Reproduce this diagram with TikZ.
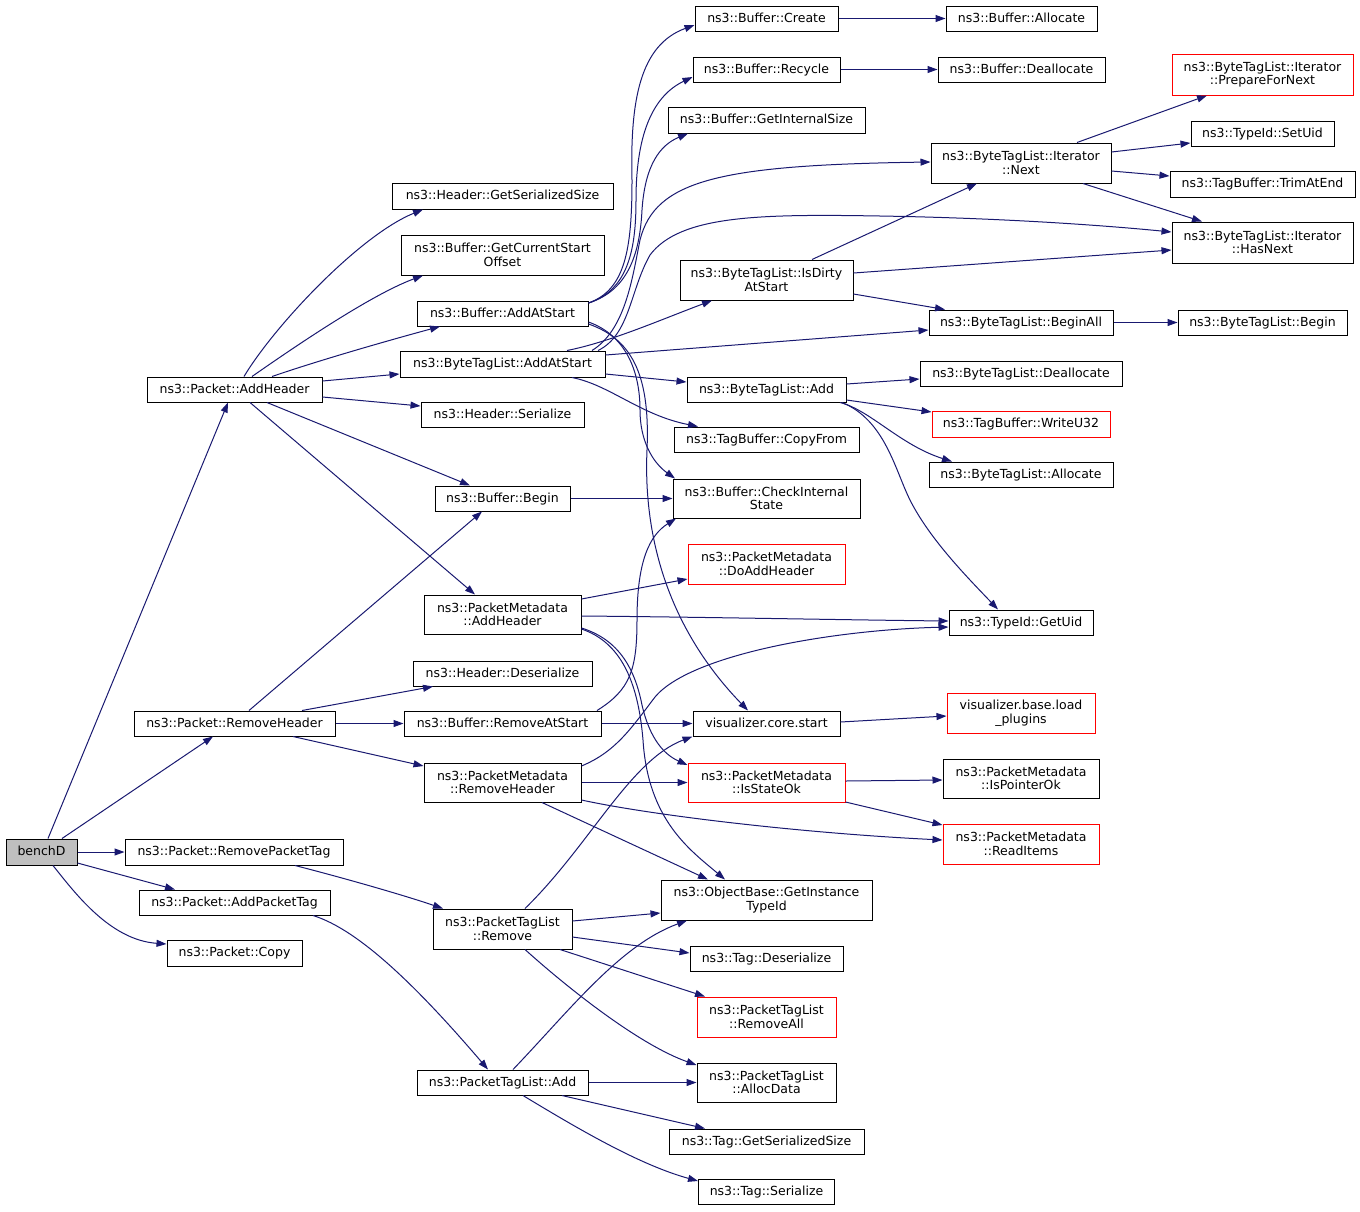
\documentclass[tikz,border=0pt]{standalone}
\usepackage{fontspec}
\setmainfont{DejaVu Sans}
\usetikzlibrary{arrows.meta}
\definecolor{edgec}{HTML}{191970}
\definecolor{nodegray}{HTML}{BFBFBF}
\newcommand{\fsz}{\fontsize{12.5}{13.5}\selectfont}
\begin{document}
\begin{tikzpicture}[x=1pt,y=-1pt,
  boxbase/.style={draw=black, line width=1pt, fill=white, inner sep=0pt, font=\fsz},
  bone/.style={boxbase, text height=9.5pt, text depth=2.5pt},
  btwo/.style={boxbase, align=center},
  rone/.style={bone, draw=red},
  rtwo/.style={btwo, draw=red},
  edge/.style={draw=edgec, line width=1pt, -{Triangle[length=10pt,width=7pt]}}]
\useasboundingbox (0,0) rectangle (1360,1211);

% ---------- nodes ----------
\node[bone, fill=nodegray, minimum width=71pt, minimum height=26pt] (benchD) at (41.5,852) {benchD};
\node[bone, minimum width=175pt, minimum height=25pt] (pAddHeader) at (234.5,389.5) {ns3::Packet::AddHeader};
\node[bone, minimum width=221pt, minimum height=26pt] (hGetSerSize) at (502.5,196) {ns3::Header::GetSerializedSize};
\node[btwo, minimum width=203pt, minimum height=40pt] (bGetCurStart) at (502.5,255) {ns3::Buffer::GetCurrentStart\\Offset};
\node[bone, minimum width=171pt, minimum height=25pt] (bAddAtStart) at (502.5,313.5) {ns3::Buffer::AddAtStart};
\node[bone, minimum width=205pt, minimum height=26pt] (btlAddAtStart) at (502.5,364) {ns3::ByteTagList::AddAtStart};
\node[bone, minimum width=163pt, minimum height=25pt] (hSerialize) at (502.5,414.5) {ns3::Header::Serialize};
\node[bone, minimum width=143pt, minimum height=25pt] (bCreate) at (766.5,18.5) {ns3::Buffer::Create};
\node[bone, minimum width=147pt, minimum height=25pt] (bRecycle) at (766.5,69.5) {ns3::Buffer::Recycle};
\node[bone, minimum width=197pt, minimum height=26pt] (bGetIntSize) at (766.5,120) {ns3::Buffer::GetInternalSize};
\node[btwo, minimum width=173pt, minimum height=40pt] (btlIsDirty) at (766.5,280) {ns3::ByteTagList::IsDirty\\AtStart};
\node[bone, minimum width=159pt, minimum height=25pt] (btlAdd) at (766.5,389.5) {ns3::ByteTagList::Add};
\node[bone, minimum width=151pt, minimum height=25pt] (bAllocate) at (1021.5,18.5) {ns3::Buffer::Allocate};
\node[bone, minimum width=167pt, minimum height=25pt] (bDeallocate) at (1021.5,69.5) {ns3::Buffer::Deallocate};
\node[rtwo, minimum width=181pt, minimum height=41pt] (itPrepare) at (1262.5,74.5) {ns3::ByteTagList::Iterator\\::PrepareForNext};
\node[bone, minimum width=143pt, minimum height=25pt] (tSetUid) at (1262.5,133.5) {ns3::TypeId::SetUid};
\node[btwo, minimum width=180pt, minimum height=40pt] (itNext) at (1021,163) {ns3::ByteTagList::Iterator\\::Next};
\node[bone, minimum width=185pt, minimum height=26pt] (tbTrim) at (1262.5,184) {ns3::TagBuffer::TrimAtEnd};
\node[btwo, minimum width=181pt, minimum height=41pt] (itHasNext) at (1262.5,242.5) {ns3::ByteTagList::Iterator\\::HasNext};
\node[bone, minimum width=184pt, minimum height=25pt] (btlBeginAll) at (1021,322.5) {ns3::ByteTagList::BeginAll};
\node[bone, minimum width=169pt, minimum height=25pt] (btlBegin) at (1262.5,322.5) {ns3::ByteTagList::Begin};
\node[bone, minimum width=202pt, minimum height=25pt] (btlDealloc) at (1021,373.5) {ns3::ByteTagList::Deallocate};
\node[rone, minimum width=178pt, minimum height=26pt] (tbWrite) at (1021,424) {ns3::TagBuffer::WriteU32};
\node[bone, minimum width=184pt, minimum height=25pt] (btlAlloc) at (1021,474.5) {ns3::ByteTagList::Allocate};
\node[bone, minimum width=144pt, minimum height=25pt] (tGetUid) at (1021,622.5) {ns3::TypeId::GetUid};
\node[rtwo, minimum width=148pt, minimum height=40pt] (loadPlugins) at (1021,713) {visualizer.base.load\\\_plugins};
\node[btwo, minimum width=156pt, minimum height=39pt] (pmIsPtrOk) at (1021,778.5) {ns3::PacketMetadata\\::IsPointerOk};
\node[rtwo, minimum width=156pt, minimum height=40pt] (pmReadItems) at (1021,844) {ns3::PacketMetadata\\::ReadItems};
\node[bone, minimum width=185pt, minimum height=25pt] (tbCopyFrom) at (766.5,439.5) {ns3::TagBuffer::CopyFrom};
\node[bone, minimum width=135pt, minimum height=25pt] (bBegin) at (502.5,498.5) {ns3::Buffer::Begin};
\node[btwo, minimum width=187pt, minimum height=39pt] (bCheck) at (766.5,498.5) {ns3::Buffer::CheckInternal\\State};
\node[rtwo, minimum width=157pt, minimum height=40pt] (pmDoAdd) at (766.5,564) {ns3::PacketMetadata\\::DoAddHeader};
\node[btwo, minimum width=157pt, minimum height=39pt] (pmAddHeader) at (502.5,614.5) {ns3::PacketMetadata\\::AddHeader};
\node[bone, minimum width=179pt, minimum height=25pt] (hDeser) at (502.5,673.5) {ns3::Header::Deserialize};
\node[bone, minimum width=197pt, minimum height=25pt] (bRemoveAtStart) at (502.5,723.5) {ns3::Buffer::RemoveAtStart};
\node[bone, minimum width=147pt, minimum height=25pt] (vcStart) at (766.5,723.5) {visualizer.core.start};
\node[btwo, minimum width=157pt, minimum height=39pt] (pmRemoveHeader) at (502.5,782.5) {ns3::PacketMetadata\\::RemoveHeader};
\node[rtwo, minimum width=157pt, minimum height=39pt] (pmIsStateOk) at (766.5,782.5) {ns3::PacketMetadata\\::IsStateOk};
\node[bone, minimum width=201pt, minimum height=25pt] (pRemoveHeader) at (234.5,723.5) {ns3::Packet::RemoveHeader};
\node[bone, minimum width=218pt, minimum height=26pt] (pRemovePT) at (234,852) {ns3::Packet::RemovePacketTag};
\node[bone, minimum width=191pt, minimum height=25pt] (pAddPT) at (234.5,902.5) {ns3::Packet::AddPacketTag};
\node[bone, minimum width=135pt, minimum height=26pt] (pCopy) at (234.5,953) {ns3::Packet::Copy};
\node[btwo, minimum width=211pt, minimum height=40pt] (obGetITId) at (766.5,900) {ns3::ObjectBase::GetInstance\\TypeId};
\node[btwo, minimum width=139pt, minimum height=40pt] (ptlRemove) at (502.5,929) {ns3::PacketTagList\\::Remove};
\node[bone, minimum width=153pt, minimum height=25pt] (tagDeser) at (766.5,958.5) {ns3::Tag::Deserialize};
\node[rtwo, minimum width=139pt, minimum height=40pt] (ptlRemoveAll) at (766.5,1017) {ns3::PacketTagList\\::RemoveAll};
\node[bone, minimum width=171pt, minimum height=25pt] (ptlAdd) at (502.5,1082.5) {ns3::PacketTagList::Add};
\node[btwo, minimum width=139pt, minimum height=39pt] (ptlAllocData) at (766.5,1082.5) {ns3::PacketTagList\\::AllocData};
\node[bone, minimum width=195pt, minimum height=25pt] (tagGetSS) at (766.5,1141.5) {ns3::Tag::GetSerializedSize};
\node[bone, minimum width=136pt, minimum height=25pt] (tagSerialize) at (766.5,1191.5) {ns3::Tag::Serialize};

% ---------- edges ----------
% benchD
\draw[edge] ([xshift=6.5pt]benchD.north) -- ([xshift=-6.5pt]pAddHeader.south);
\draw[edge] ([xshift=20.5pt]benchD.north) -- ([xshift=-21.5pt]pRemoveHeader.south);
\draw[edge] (benchD.east) -- (pRemovePT.west);
\draw[edge] ([yshift=-11pt]benchD.east) -- ([xshift=-59.5pt]pAddPT.north);
\draw[edge] ([xshift=11.5pt]benchD.south) .. controls (75,893) and (110,940) .. ([yshift=9pt]pCopy.west);
% Packet::AddHeader
\draw[edge] ([xshift=9.5pt]pAddHeader.north) .. controls (275,325) and (360,235) .. ([xshift=-79.5pt]hGetSerSize.south);
\draw[edge] ([xshift=17.5pt]pAddHeader.north) .. controls (290,350) and (370,295) .. ([xshift=-79.5pt]bGetCurStart.south);
\draw[edge] ([xshift=37.5pt]pAddHeader.north) .. controls (320,360) and (390,340) .. ([xshift=-62.5pt]bAddAtStart.south);
\draw[edge] ([yshift=8.5pt]pAddHeader.east) -- ([yshift=-10pt]btlAddAtStart.west);
\draw[edge] ([yshift=-7.5pt]pAddHeader.east) -- ([yshift=8.5pt]hSerialize.west);
\draw[edge] ([xshift=32.5pt]pAddHeader.south) -- ([xshift=-32.5pt]bBegin.north);
\draw[edge] ([xshift=15.5pt]pAddHeader.south) -- ([xshift=-27.5pt]pmAddHeader.north);
% Packet::RemoveHeader
\draw[edge] ([xshift=14.5pt]pRemoveHeader.north) -- ([xshift=-20.5pt]bBegin.south);
\draw[edge] ([xshift=67.5pt]pRemoveHeader.north) -- ([xshift=-69.5pt]hDeser.south);
\draw[edge] (pRemoveHeader.east) -- (bRemoveAtStart.west);
\draw[edge] ([xshift=58.5pt]pRemoveHeader.south) -- ([yshift=16.5pt]pmRemoveHeader.west);
% Packet tags
\draw[edge] ([xshift=61pt]pRemovePT.south) .. controls (340,877) and (400,894) .. ([xshift=-59.5pt]ptlRemove.north);
\draw[edge] ([xshift=78.5pt]pAddPT.south) .. controls (360,930) and (420,990) .. ([xshift=-14.5pt]ptlAdd.north);
% Buffer::AddAtStart
\draw[edge] ([yshift=10.5pt]bAddAtStart.east) .. controls (625,290) and (632,250) .. (632,180) .. controls (630,100) and (640,45) .. ([yshift=-6.5pt]bCreate.west);
\draw[edge] ([yshift=10.5pt]bAddAtStart.east) .. controls (628,290) and (636,250) .. (636,200) .. controls (636,130) and (655,95) .. ([yshift=-7.5pt]bRecycle.west);
\draw[edge] ([yshift=10.5pt]bAddAtStart.east) .. controls (630,290) and (640,250) .. (642,210) .. controls (645,165) and (660,145) .. ([xshift=-78.5pt]bGetIntSize.south);
\draw[edge] ([yshift=-8.5pt]bAddAtStart.east) .. controls (625,335) and (640,370) .. (640,410) .. controls (640,440) and (652,462) .. ([xshift=-91.5pt]bCheck.north);
\draw[edge] ([yshift=-10.5pt]bAddAtStart.east) .. controls (635,340) and (650,380) .. (647,450) .. controls (643,540) and (670,630) .. ([xshift=-18.5pt]vcStart.north);
% ByteTagList::AddAtStart
\draw[edge] ([xshift=64.5pt]btlAddAtStart.north) .. controls (610,342) and (660,320) .. ([xshift=-54.5pt]btlIsDirty.south);
\draw[edge] ([yshift=9pt]btlAddAtStart.east) -- ([yshift=-7.5pt]btlBeginAll.west);
\draw[edge] ([yshift=-10pt]btlAddAtStart.east) -- ([yshift=7.5pt]btlAdd.west);
\draw[edge] ([xshift=69.5pt]btlAddAtStart.south) .. controls (610,385) and (640,415) .. ([xshift=-68.5pt]tbCopyFrom.north);
\draw[edge] ([xshift=89.5pt]btlAddAtStart.north) .. controls (625,330) and (632,280) .. (640,240) .. controls (655,180) and (720,165) .. ([yshift=1pt]itNext.west);
\draw[edge] ([xshift=95.5pt]btlAddAtStart.north) .. controls (630,335) and (630,290) .. (650,255) .. controls (680,215) and (760,214) .. (880,216) .. controls (1000,218) and (1100,225) .. ([yshift=10.5pt]itHasNext.west);
% Buffer::RemoveAtStart, Begin
\draw[edge] ([xshift=94.5pt]bRemoveAtStart.north) .. controls (630,690) and (637,670) .. (637,620) .. controls (637,560) and (650,535) .. ([xshift=-90.5pt]bCheck.south);
\draw[edge] (bRemoveAtStart.east) -- (vcStart.west);
\draw[edge] (bBegin.east) -- (bCheck.west);
% PacketMetadata::AddHeader
\draw[edge] ([yshift=15.5pt]pmAddHeader.east) -- ([yshift=-15pt]pmDoAdd.west);
\draw[edge] ([yshift=-1.5pt]pmAddHeader.east) .. controls (700,617) and (850,620) .. ([yshift=1.5pt]tGetUid.west);
\draw[edge] ([yshift=-13.5pt]pmAddHeader.east) .. controls (620,640) and (635,670) .. (642,705) .. controls (650,740) and (665,755) .. ([yshift=17.5pt]pmIsStateOk.west);
\draw[edge] ([yshift=-14.5pt]pmAddHeader.east) .. controls (620,642) and (638,680) .. (643,740) .. controls (648,820) and (690,850) .. ([xshift=-41.5pt]obGetITId.north);
% PacketMetadata::RemoveHeader
\draw[edge] ([yshift=16.5pt]pmRemoveHeader.east) .. controls (615,752) and (630,730) .. (655,697) .. controls (690,655) and (830,630) .. ([yshift=-4.5pt]tGetUid.west);
\draw[edge] (pmRemoveHeader.east) -- (pmIsStateOk.west);
\draw[edge] ([yshift=-17.5pt]pmRemoveHeader.east) .. controls (650,815) and (800,833) .. ([yshift=4pt]pmReadItems.west);
\draw[edge] ([xshift=39.5pt]pmRemoveHeader.south) -- ([xshift=-58.5pt]obGetITId.north);
% IsStateOk, core.start
\draw[edge] ([yshift=1.5pt]pmIsStateOk.east) -- ([yshift=-1.5pt]pmIsPtrOk.west);
\draw[edge] ([yshift=-19.5pt]pmIsStateOk.east) -- ([yshift=19pt]pmReadItems.west);
\draw[edge] ([yshift=1.5pt]vcStart.east) -- ([yshift=-3pt]loadPlugins.west);
% PacketTagList::Remove
\draw[edge] ([xshift=22.5pt]ptlRemove.north) .. controls (590,845) and (630,760) .. (vcStart.south west);
\draw[edge] ([yshift=8pt]ptlRemove.east) -- ([yshift=-13pt]obGetITId.west);
\draw[edge] ([yshift=-8pt]ptlRemove.east) -- ([yshift=5.5pt]tagDeser.west);
\draw[edge] ([xshift=57.5pt]ptlRemove.south) -- ([xshift=-61.5pt]ptlRemoveAll.north);
\draw[edge] ([xshift=22.5pt]ptlRemove.south) .. controls (570,990) and (640,1045) .. ([yshift=17.5pt]ptlAllocData.west);
% PacketTagList::Add
\draw[edge] ([xshift=10.5pt]ptlAdd.north) .. controls (570,1010) and (620,945) .. ([xshift=-79.5pt]obGetITId.south);
\draw[edge] (ptlAdd.east) -- (ptlAllocData.west);
\draw[edge] ([xshift=59.5pt]ptlAdd.south) -- ([xshift=-61.5pt]tagGetSS.north);
\draw[edge] ([xshift=20.5pt]ptlAdd.south) .. controls (580,1130) and (640,1165) .. ([yshift=10.5pt]tagSerialize.west);
% ByteTagList::Add
\draw[edge] ([yshift=5.5pt]btlAdd.east) -- ([yshift=-5.5pt]btlDealloc.west);
\draw[edge] ([yshift=-10.5pt]btlAdd.east) -- ([yshift=12pt]tbWrite.west);
\draw[edge] ([xshift=73.5pt]btlAdd.south) .. controls (870,410) and (900,445) .. ([xshift=-69pt]btlAlloc.north);
\draw[edge] ([xshift=75.5pt]btlAdd.south) .. controls (885,420) and (895,470) .. (910,500) .. controls (930,540) and (970,580) .. ([xshift=-23pt]tGetUid.north);
% Buffer create / recycle
\draw[edge] (bCreate.east) -- (bAllocate.west);
\draw[edge] (bRecycle.east) -- (bDeallocate.west);
% IsDirtyAtStart
\draw[edge] ([xshift=45.5pt]btlIsDirty.north) -- ([xshift=-44pt]itNext.south);
\draw[edge] ([yshift=7pt]btlIsDirty.east) -- ([yshift=-7.5pt]itHasNext.west);
\draw[edge] ([yshift=-14pt]btlIsDirty.east) -- ([xshift=-76pt]btlBeginAll.north);
% Iterator::Next
\draw[edge] ([xshift=56pt]itNext.north) -- ([xshift=-55.5pt]itPrepare.south);
\draw[edge] ([yshift=11pt]itNext.east) -- ([yshift=-9.5pt]tSetUid.west);
\draw[edge] ([yshift=-8pt]itNext.east) -- ([yshift=8pt]tbTrim.west);
\draw[edge] ([xshift=62pt]itNext.south) -- ([xshift=-60.5pt]itHasNext.north);
% BeginAll
\draw[edge] (btlBeginAll.east) -- (btlBegin.west);
\end{tikzpicture}
\end{document}
